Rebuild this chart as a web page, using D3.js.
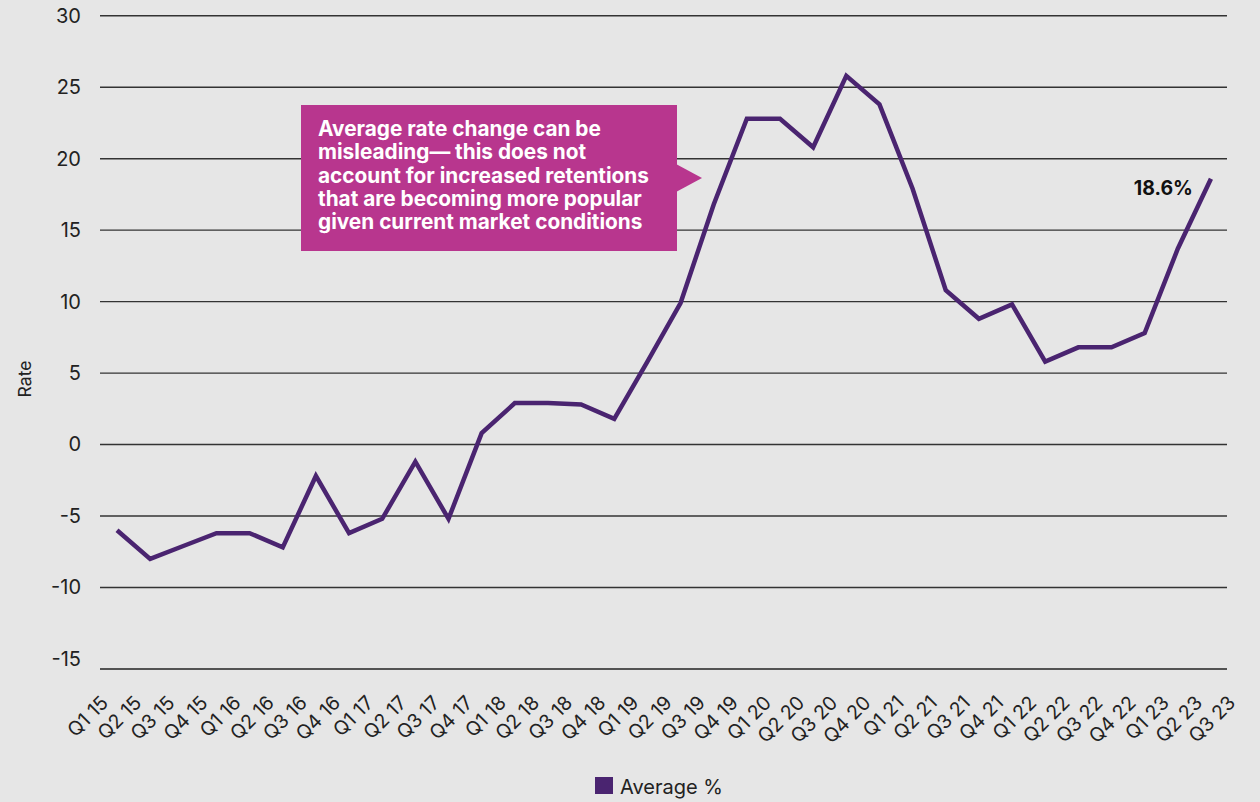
<!DOCTYPE html>
<html>
<head>
<meta charset="utf-8">
<script src="https://cdn.jsdelivr.net/npm/d3@7"></script>
<style>
  body { margin: 0; background: #e6e6e6; }
  svg { display: block; font-family: Inter, "Noto Sans", sans-serif; }
</style>
</head>
<body>
<svg width="1260" height="802"></svg>
<script>
var quarters = ["Q1 15","Q2 15","Q3 15","Q4 15","Q1 16","Q2 16","Q3 16","Q4 16",
  "Q1 17","Q2 17","Q3 17","Q4 17","Q1 18","Q2 18","Q3 18","Q4 18",
  "Q1 19","Q2 19","Q3 19","Q4 19","Q1 20","Q2 20","Q3 20","Q4 20",
  "Q1 21","Q2 21","Q3 21","Q4 21","Q1 22","Q2 22","Q3 22","Q4 22",
  "Q1 23","Q2 23","Q3 23"];

// average rate change, % (line stops one label short)
var averagePct = [-6.0, -8.0, -7.1, -6.2, -6.2, -7.2, -2.2, -6.2,
  -5.2, -1.2, -5.2, 0.8, 2.9, 2.9, 2.8, 1.8,
  5.8, 9.9, 16.8, 22.8, 22.8, 20.8, 25.8, 23.8,
  17.9, 10.8, 8.8, 9.8, 5.8, 6.8, 6.8, 7.8,
  13.7, 18.6];

var yTicks = [-15, -10, -5, 0, 5, 10, 15, 20, 25, 30];
var gridTicks = [-10, -5, 0, 5, 10, 15, 20, 25, 30];

var note = ["Average rate change can be",
  "misleading\u2014 this does not",
  "account for increased retentions",
  "that are becoming more popular",
  "given current market conditions"];

var lastLabel = "18.6%";
var legendLabel = "Average %";

var svg = d3.select("svg");
var plotLeft = 100, plotRight = 1227, axisY = 669;

var x = d3.scalePoint().domain(quarters).range([117, 117 + 33.15 * 34]);
var y = d3.scaleLinear().domain([-15, 30]).range([658.9, 15.8]);

// grid lines
svg.append("g")
  .selectAll("line")
  .data(gridTicks)
  .enter().append("line")
  .attr("x1", plotLeft).attr("x2", plotRight)
  .attr("y1", function(d) { return y(d); })
  .attr("y2", function(d) { return y(d); })
  .attr("stroke", "#333")
  .attr("stroke-width", 1.4);

// baseline
svg.append("line")
  .attr("x1", plotLeft).attr("x2", plotRight)
  .attr("y1", axisY).attr("y2", axisY)
  .attr("stroke", "#222")
  .attr("stroke-width", 1.4);

// y axis labels
var yAxis = d3.axisLeft(y).tickValues(yTicks).tickSize(0).tickPadding(0)
  .tickFormat(function(d) { return String(d); });
var gy = svg.append("g").attr("transform", "translate(81,0)").call(yAxis);
gy.select(".domain").remove();
gy.selectAll("text")
  .attr("font-size", 20)
  .attr("fill", "#222")
  .attr("font-family", "Inter, sans-serif");

svg.append("text")
  .attr("transform", "translate(31,379) rotate(-90)")
  .attr("text-anchor", "middle")
  .attr("font-size", 17.5)
  .attr("fill", "#222")
  .text("Rate");

// x axis labels
var xAxis = d3.axisBottom(x).tickSize(0).tickPadding(0);
var gx = svg.append("g").attr("transform", "translate(0," + axisY + ")").call(xAxis);
gx.select(".domain").remove();
gx.selectAll("text")
  .attr("font-size", 19.5)
  .attr("fill", "#222")
  .attr("font-family", "Inter, sans-serif")
  .attr("text-anchor", "end")
  .attr("dy", 0)
  .attr("y", 0)
  .attr("transform", "translate(-8,35) rotate(-45)");

// the line
var line = d3.line()
  .x(function(d, i) { return x(quarters[i]); })
  .y(function(d) { return y(d); });

svg.append("path")
  .datum(averagePct)
  .attr("d", line)
  .attr("fill", "none")
  .attr("stroke", "#4a2470")
  .attr("stroke-width", 4.5);

var lastI = averagePct.length - 1;
svg.append("text")
  .attr("x", x(quarters[lastI]) - 18)
  .attr("y", y(averagePct[lastI]) + 16)
  .attr("text-anchor", "end")
  .attr("font-size", 19.5)
  .attr("font-weight", 700)
  .attr("fill", "#111")
  .text(lastLabel);

// annotation box
var box = svg.append("g");
box.append("rect")
  .attr("x", 301).attr("y", 105)
  .attr("width", 376).attr("height", 146)
  .attr("fill", "#b8368e");
box.append("path")
  .attr("d", "M676,164 L702,178 L676,192 Z")
  .attr("fill", "#b8368e");
box.append("g")
  .selectAll("text")
  .data(note)
  .enter().append("text")
  .attr("x", 318)
  .attr("y", function(d, i) { return 136 + i * 23.3; })
  .attr("font-size", 20.8)
  .attr("font-weight", 700)
  .attr("fill", "#fff")
  .text(function(d) { return d; });

// legend
svg.append("rect")
  .attr("x", 595).attr("y", 777)
  .attr("width", 18).attr("height", 17)
  .attr("fill", "#4a2470");
svg.append("text")
  .attr("x", 620).attr("y", 794)
  .attr("font-size", 20)
  .attr("fill", "#222")
  .text(legendLabel);
</script>
</body>
</html>
